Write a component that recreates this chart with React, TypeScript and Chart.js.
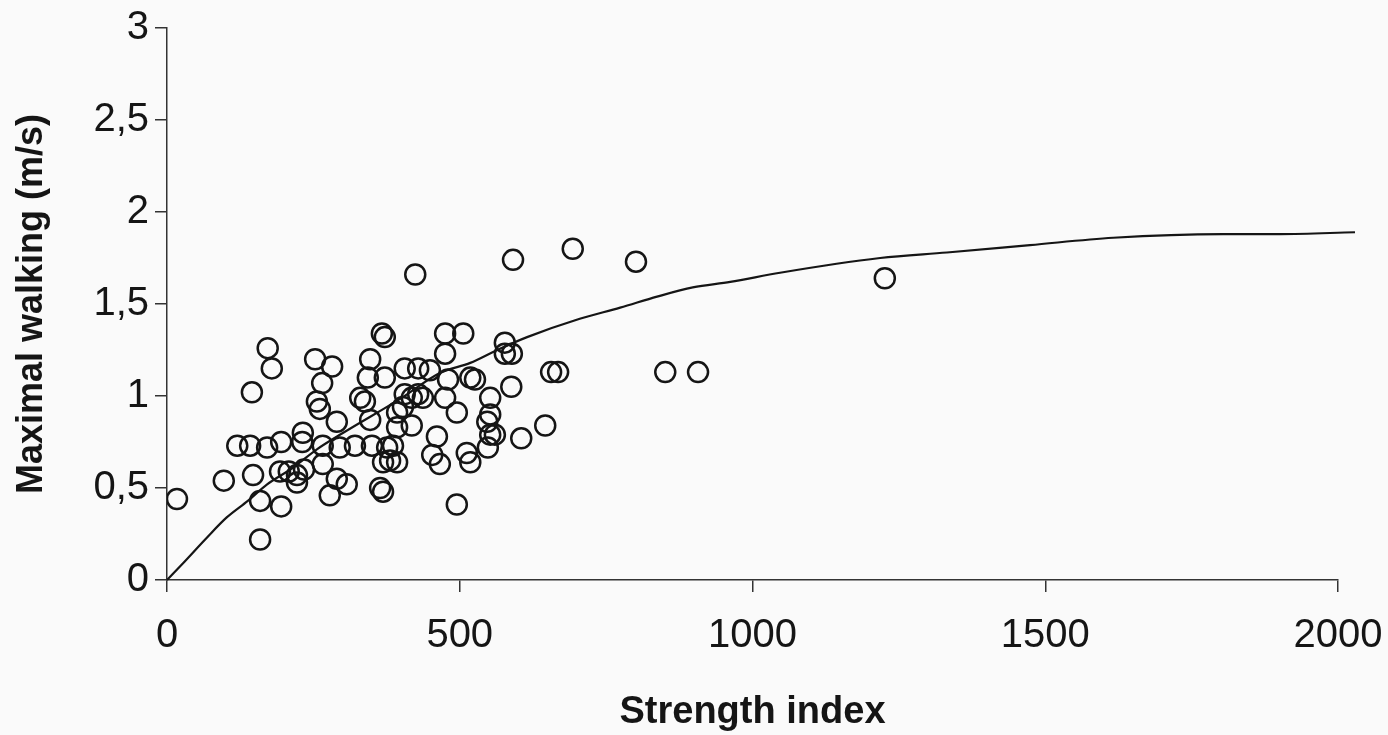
import React, { useEffect, useRef } from "react";
import { Chart, registerables } from "chart.js";

Chart.register(...registerables);

// Scatter observations: strength index (x) and maximal walking speed in m/s (y)
const strengthIndex = [
  17, 97, 120, 142, 145, 147, 159, 159, 172, 179,
  171, 195, 195, 193, 208, 222, 222, 234, 232, 231,
  253, 282, 265, 256, 261, 290, 266, 295, 266, 290,
  307, 278, 321, 347, 343, 372, 367, 372, 330, 338,
  347, 350, 376, 386, 369, 381, 393, 364, 369, 393,
  393, 406, 429, 449, 406, 418, 429, 403, 418, 424,
  475, 506, 475, 480, 518, 526, 437, 475, 495, 453,
  461, 466, 512, 518, 495, 552, 552, 547, 552, 560,
  548, 577, 577, 589, 588, 591, 646, 605, 656, 668,
  693, 801, 851, 907, 1226,
];
const walkingSpeed = [
  0.44, 0.54, 0.73, 0.73, 1.02, 0.57, 0.43, 0.22, 1.26, 1.15,
  0.72, 0.75, 0.40, 0.59, 0.59, 0.57, 0.53, 0.60, 0.80, 0.75,
  1.20, 1.16, 1.07, 0.97, 0.93, 0.86, 0.73, 0.72, 0.63, 0.55,
  0.52, 0.46, 0.73, 1.20, 1.10, 1.10, 1.34, 1.32, 0.99, 0.97,
  0.87, 0.73, 0.72, 0.73, 0.64, 0.65, 0.64, 0.50, 0.48, 0.91,
  0.83, 1.15, 1.15, 1.14, 1.01, 0.99, 1.01, 0.94, 0.84, 1.66,
  1.34, 1.34, 1.23, 1.09, 1.10, 1.09, 0.99, 0.99, 0.91, 0.68,
  0.78, 0.63, 0.69, 0.64, 0.41, 0.99, 0.90, 0.86, 0.79, 0.79,
  0.72, 1.29, 1.23, 1.23, 1.05, 1.74, 0.84, 0.77, 1.13, 1.13,
  1.80, 1.73, 1.13, 1.13, 1.64,
];

// Fitted curve
const curveX = [
  0, 27, 68, 102, 138, 171, 215, 256, 301, 401, 466, 518, 564, 615,
  705, 774, 837, 898, 962, 1047, 1218, 1332, 1474, 1616, 1804, 1901, 2029,
];
const curveY = [
  0, 0.09, 0.23, 0.34, 0.43, 0.52, 0.61, 0.71, 0.8, 0.99, 1.125, 1.18, 1.25, 1.32,
  1.42, 1.48, 1.54, 1.59, 1.62, 1.67, 1.75, 1.78, 1.82, 1.86, 1.88, 1.88, 1.89,
];

const xTicks = [0, 500, 1000, 1500, 2000];
const yTicks = [0, 0.5, 1, 1.5, 2, 2.5, 3];

const xTitle = "Strength index";
const yTitle = "Maximal walking (m/s)";

const INK = "#151515";
const FONT = "'Liberation Sans', Arial, sans-serif";

export default function App() {
  const ref = useRef<HTMLCanvasElement | null>(null);

  useEffect(() => {
    if (!ref.current) return;
    const scatterData = strengthIndex.map((x, i) => ({ x, y: walkingSpeed[i] }));
    const curveData = curveX.map((x, i) => ({ x, y: curveY[i] }));

    const chart = new Chart(ref.current, {
      type: "scatter",
      data: {
        datasets: [
          {
            type: "line",
            data: curveData,
            borderColor: INK,
            borderWidth: 2.2,
            pointRadius: 0,
            cubicInterpolationMode: "monotone",
            fill: false,
            clip: false as any,
            order: 2,
          } as any,
          {
            type: "scatter",
            data: scatterData,
            pointRadius: 10,
            pointBorderWidth: 2.5,
            borderColor: INK,
            backgroundColor: "rgba(0,0,0,0)",
            pointStyle: "circle",
            order: 1,
          } as any,
        ],
      },
      options: {
        animation: false,
        responsive: false,
        devicePixelRatio: 1,
        layout: { padding: { top: 28, right: 50, left: 0, bottom: 0 } },
        plugins: {
          legend: { display: false },
          tooltip: { enabled: false },
        },
        scales: {
          x: {
            type: "linear",
            min: 0,
            max: 2000,
            afterBuildTicks: (s: any) => {
              s.ticks = xTicks.map((v) => ({ value: v }));
            },
            afterFit: (s: any) => {
              s.height = 155;
              s.paddingLeft = 0;
              s.paddingRight = 0;
            },
            ticks: {
              color: INK,
              font: { family: FONT, size: 40 },
              padding: 20,
              maxRotation: 0,
              autoSkip: false,
              callback: (v: any) => String(v),
            },
            grid: {
              display: true,
              drawOnChartArea: false,
              drawTicks: true,
              tickLength: 12,
              color: "#333",
              lineWidth: 1.5,
            },
            border: { display: true, color: "#333", width: 1.5 },
            title: {
              display: true,
              text: xTitle,
              color: INK,
              font: { family: FONT, size: 38, weight: "bold" },
              padding: { top: 0, bottom: 0 },
            },
          },
          y: {
            type: "linear",
            min: 0,
            max: 3,
            afterBuildTicks: (s: any) => {
              s.ticks = yTicks.map((v) => ({ value: v }));
            },
            afterFit: (s: any) => {
              s.width = 167;
              s.paddingTop = 0;
              s.paddingBottom = 0;
            },
            ticks: {
              color: INK,
              font: { family: FONT, size: 40 },
              padding: 6,
              callback: (v: any) => String(v).replace(".", ","),
            },
            grid: {
              display: true,
              drawOnChartArea: false,
              drawTicks: true,
              tickLength: 12,
              color: "#333",
              lineWidth: 1.5,
            },
            border: { display: true, color: "#333", width: 1.5 },
            title: {
              display: true,
              text: yTitle,
              color: INK,
              font: { family: FONT, size: 36, weight: "bold" },
              padding: { top: 10, bottom: 0 },
            },
          },
        },
      } as any,
    });
    return () => chart.destroy();
  }, []);

  return (
    <div
      style={{
        position: "fixed",
        left: 0,
        top: 0,
        width: 1388,
        height: 735,
        background: "#fafafa",
      }}
    >
      <canvas ref={ref} width={1388} height={735} style={{ display: "block" }} />
    </div>
  );
}
